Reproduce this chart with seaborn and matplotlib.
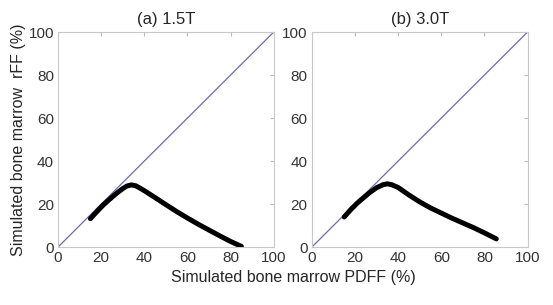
import matplotlib
matplotlib.use("Agg")
import matplotlib.pyplot as plt
import seaborn as sns
import pandas as pd

# simulated curves (PDFF %, rFF %)
pdff_15 = [15, 18, 21, 24, 27, 30, 32, 34, 36, 38, 40, 45, 50, 55, 60, 65, 70, 75, 80, 85]
rff_15 = [13.2, 16.5, 19.6, 22.3, 24.9, 27.2, 28.4, 28.9, 28.5, 27.4, 26.2, 23.0,
          19.7, 16.5, 13.5, 10.6, 7.9, 5.2, 2.6, 0.3]
pdff_30 = [15, 18, 21, 24, 27, 30, 33, 35, 37, 40, 45, 50, 55, 60, 65, 70, 75, 80, 85.5]
rff_30 = [14.0, 17.4, 20.4, 23.0, 25.5, 27.6, 29.0, 29.4, 29.0, 27.7, 24.2, 21.0,
          18.2, 15.8, 13.4, 11.2, 9.0, 6.6, 3.8]
titles = ["(a) 1.5T", "(b) 3.0T"]
ticks = [0, 20, 40, 60, 80, 100]

sns.set_style("white")
plt.rcParams['font.family'] = ['Liberation Sans', 'DejaVu Sans']

fig = plt.figure(figsize=(5.53, 3.05), dpi=100)
ax1 = fig.add_axes([0.105, 0.19, 0.39, 0.705])
ax2 = fig.add_axes([0.564, 0.19, 0.39, 0.705])

curves = [(pdff_15, rff_15), (pdff_30, rff_30)]
for ax, (xs, ys), title in zip([ax1, ax2], curves, titles):
    df = pd.DataFrame({'PDFF': xs, 'rFF': ys})
    ax.plot([0, 100], [0, 100], color='#6a6ab4', lw=0.9)
    sns.lineplot(data=df, x='PDFF', y='rFF', ax=ax, color='black', lw=3.6,
                 solid_capstyle='round', solid_joinstyle='round')
    ax.set_xlim(0, 100)
    ax.set_ylim(0, 100)
    ax.set_xticks(ticks)
    ax.set_yticks(ticks)
    ax.tick_params(direction='in', length=3, color='#bbbbbb', labelsize=11,
                   labelcolor='#333333', top=True, right=True, pad=3)
    for s in ax.spines.values():
        s.set_color('#c8c8c8')
        s.set_linewidth(0.8)
    ax.set_xlabel('')
    ax.set_ylabel('')
    ax.set_title(title, fontsize=12, pad=6)

ax1.set_ylabel('Simulated bone marrow  rFF (%)', fontsize=11.5, labelpad=2)
fig.text(0.53, 0.09, 'Simulated bone marrow PDFF (%)', ha='center', va='center',
         fontsize=11.5)

fig.savefig('out.png', dpi=100)
